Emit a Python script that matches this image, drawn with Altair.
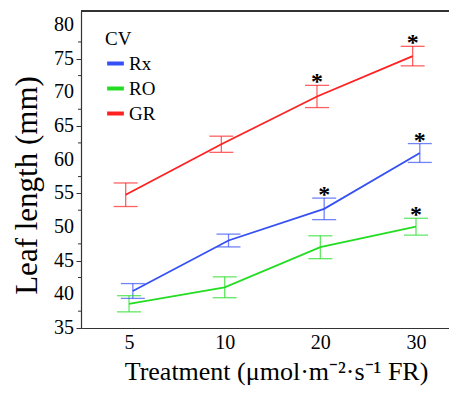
import altair as alt
import pandas as pd

treatments = ["5", "10", "20", "30"]
cultivars = ["Rx", "RO", "GR"]
rx_mean = [40.5, 48.0, 52.7, 61.0]
rx_err = [1.1, 0.95, 1.6, 1.4]
ro_mean = [38.6, 41.05, 47.0, 50.05]
ro_err = [1.2, 1.55, 1.7, 1.25]
gr_mean = [54.8, 62.3, 69.4, 75.4]
gr_err = [1.75, 1.2, 1.65, 1.45]
rx_sig = [0, 0, 1, 1]
ro_sig = [0, 0, 0, 1]
gr_sig = [0, 0, 1, 1]
colors = ["#3550f5", "#22dd22", "#ff2020"]
y_major = [35, 40, 45, 50, 55, 60, 65, 70, 75, 80]
y_minor = [37.5, 42.5, 47.5, 52.5, 57.5, 62.5, 67.5, 72.5, 77.5]

rows = []
for cv, m, e, s in [("Rx", rx_mean, rx_err, rx_sig), ("RO", ro_mean, ro_err, ro_sig), ("GR", gr_mean, gr_err, gr_sig)]:
    for i, t in enumerate(treatments):
        rows.append({"cv": cv, "idx": i, "treat": t, "mean": m[i],
                     "lo": m[i] - e[i], "hi": m[i] + e[i], "sig": s[i]})
df = pd.DataFrame(rows)
minor_df = pd.DataFrame({"v": y_minor})
major_df = pd.DataFrame({"v": y_major, "lab": [str(v) for v in y_major]})

W, H = 368, 317
FONT = "Liberation Serif"

base = alt.Chart(df).transform_calculate(
    xpos="datum.idx + (datum.cv == 'GR' ? -0.035 : (datum.cv == 'Rx' ? 0.04 : 0))"
)

xscale = alt.Scale(domain=[-0.502, 3.345], nice=False, zero=False)
yscale = alt.Scale(domain=[35, 82.1], nice=False, zero=False)
cscale = alt.Scale(domain=cultivars, range=colors)

x_enc = alt.X("xpos:Q", scale=xscale, axis=alt.Axis(
    values=[0, 1, 2, 3],
    labelExpr="['5','10','20','30'][datum.value]",
    title="Treatment (μmol·m⁻²·s⁻¹ FR)",
    titleFontSize=26, titleFont=FONT, titleFontWeight="normal",
    titleX=195, titlePadding=6,
    labelFontSize=20, labelFont=FONT, labelPadding=4, labelOverlap=False,
    ticks=False, grid=False, domainColor="#333333", domainWidth=1.2,
    labelColor="black", titleColor="black"))

y_enc = alt.Y("mean:Q", scale=yscale, axis=alt.Axis(
    values=y_major,
    tickSize=5, labels=False,
    title="Leaf length (mm)",
    titleFontSize=31, titleFont=FONT, titleFontWeight="normal",
    titleY=174, titleX=-38,
    grid=False, domainColor="#333333", domainWidth=1.2, tickColor="#333333",
    titleColor="black"))

lines = base.mark_line(strokeWidth=1.8).encode(
    x=x_enc, y=y_enc,
    color=alt.Color("cv:N", scale=cscale, sort=cultivars, legend=alt.Legend(
        title="CV", orient="none", legendX=24, legendY=19, padding=0,
        titleFont=FONT, titleFontSize=19, titleFontWeight="normal", titleColor="black",
        titlePadding=4,
        labelFont=FONT, labelFontSize=19, labelColor="black", labelOffset=3,
        symbolType="stroke", symbolStrokeWidth=4, symbolSize=280, rowPadding=4)),
    detail="cv:N")

bars = base.mark_rule(strokeWidth=1.3, opacity=0.7).encode(
    x="xpos:Q", y="lo:Q", y2="hi:Q",
    color=alt.Color("cv:N", scale=cscale, legend=None))

cap_hi = base.mark_tick(orient="horizontal", size=24, thickness=1.3, opacity=0.7).encode(
    x="xpos:Q", y="hi:Q", color=alt.Color("cv:N", scale=cscale, legend=None))
cap_lo = base.mark_tick(orient="horizontal", size=24, thickness=1.3, opacity=0.7).encode(
    x="xpos:Q", y="lo:Q", color=alt.Color("cv:N", scale=cscale, legend=None))

stars = base.transform_filter("datum.sig == 1").mark_text(
    text="*", font=FONT, fontSize=24, fontWeight="bold", color="black",
    baseline="alphabetic", dy=4).encode(x="xpos:Q", y="hi:Q")

minor = alt.Chart(minor_df).mark_rule(color="#333333", strokeWidth=1).encode(
    x=alt.value(-3), x2=alt.value(0), y=alt.Y("v:Q", scale=yscale))

ylabels = alt.Chart(major_df).mark_text(
    font=FONT, fontSize=20, color="black", align="right", baseline="middle").encode(
    x=alt.value(-7), y=alt.Y("v:Q", scale=yscale), text="lab:N")

frame = alt.Chart(df).mark_rule(color="#333333", strokeWidth=1.2).encode(
    x=alt.value(0), x2=alt.value(W), y=alt.value(0))

chart = alt.layer(lines, bars, cap_hi, cap_lo, stars, minor, ylabels, frame).properties(
    width=W, height=H,
    autosize="none",
    padding={"left": 73, "top": 3, "right": 0, "bottom": 58},
).configure_view(stroke=None).configure(background="white")

chart.save("out.html", embed_options={"renderer": "svg", "actions": False})
